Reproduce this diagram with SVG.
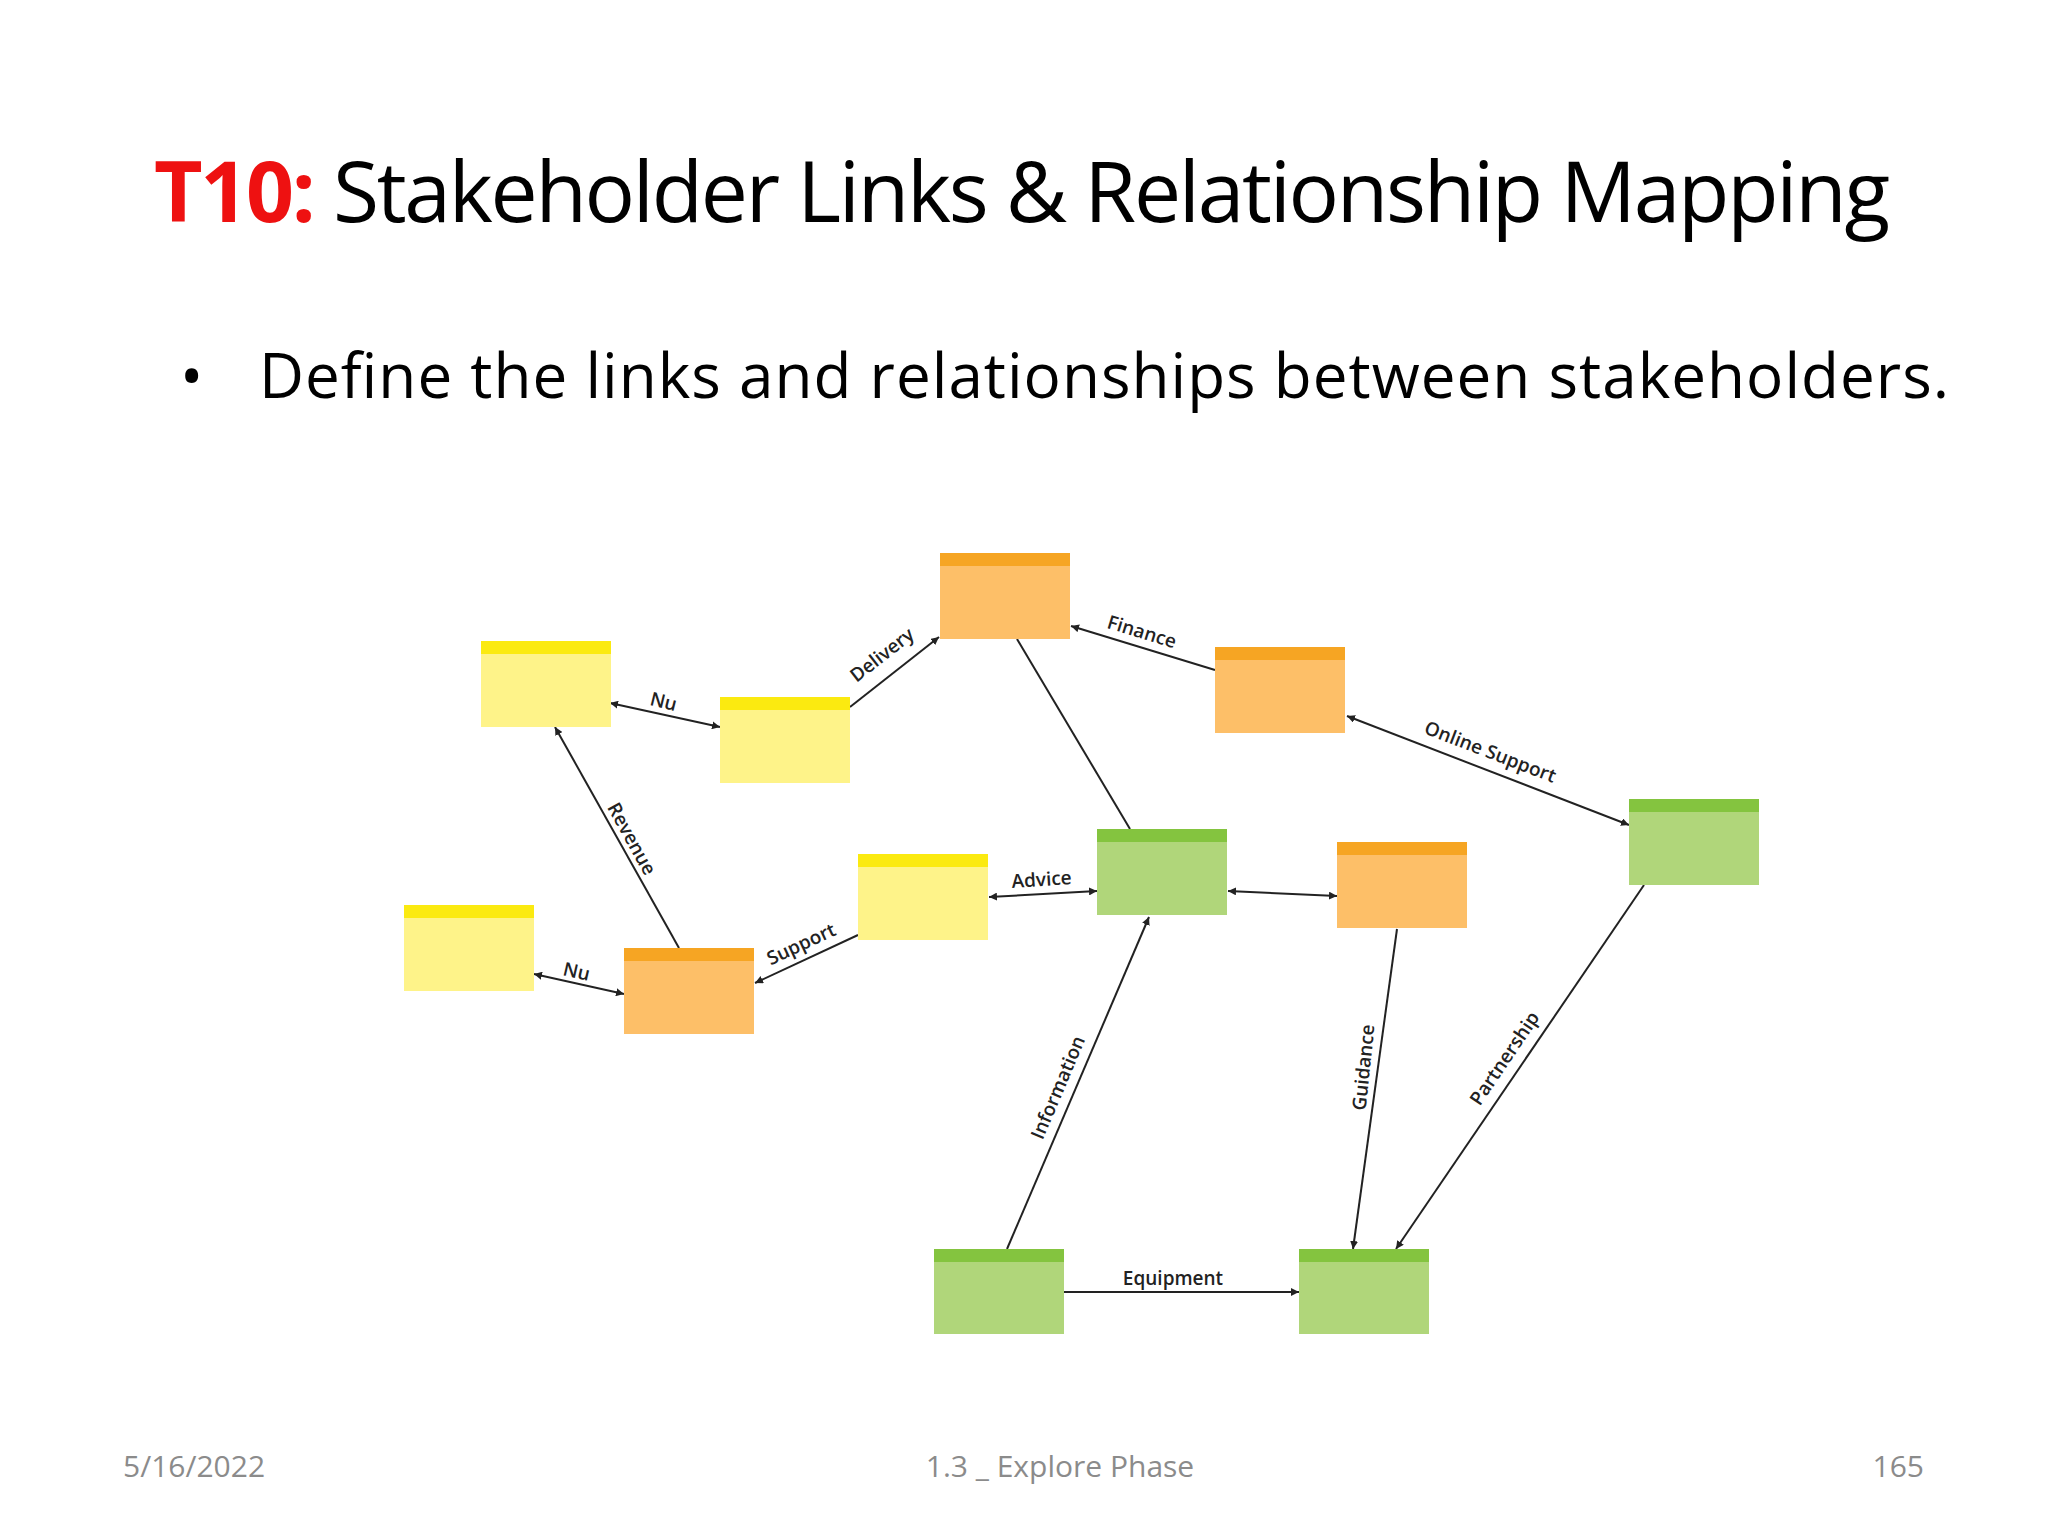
<svg xmlns="http://www.w3.org/2000/svg" width="2048" height="1536" viewBox="0 0 2048 1536">
<style>
.y{fill:#fef389}.yb{fill:#fbea10}.o{fill:#fdbf68}.ob{fill:#f6a523}.g{fill:#b0d67a}.gb{fill:#84c43f}
.e{stroke:#222;stroke-width:2;fill:none}
.l{font-family:"Open Sans","Liberation Sans",sans-serif;font-size:19px;font-weight:600;fill:#222}
.f{font-family:"Open Sans","Liberation Sans",sans-serif;font-size:30px;fill:#8b8b8b}
</style>
<defs>
<marker id="a" viewBox="0 0 10 10" refX="10" refY="5" markerWidth="8" markerHeight="8" orient="auto-start-reverse" markerUnits="userSpaceOnUse"><path d="M0,0L10,5L0,10z" fill="#222"/></marker>
</defs>
<rect width="2048" height="1536" fill="#fff"/>
<text x="154" y="222" font-family="'Open Sans','Liberation Sans',sans-serif" font-size="84" textLength="1736"><tspan fill="#ee1111" font-weight="bold">T10:</tspan><tspan fill="#000"> Stakeholder Links &amp; Relationship Mapping</tspan></text>
<text x="180" y="398" font-family="'Open Sans','Liberation Sans',sans-serif" font-size="62">•</text>
<text x="259" y="398" font-family="'Open Sans','Liberation Sans',sans-serif" font-size="62" textLength="1690">Define the links and relationships between stakeholders.</text>
<g id="connectors">
<line class="e" x1="610" y1="703" x2="720" y2="727" marker-start="url(#a)" marker-end="url(#a)"/>
<line class="e" x1="850" y1="707" x2="939" y2="637" marker-end="url(#a)"/>
<line class="e" x1="1215" y1="670" x2="1071" y2="626" marker-end="url(#a)"/>
<line class="e" x1="1017" y1="639" x2="1130" y2="829"/>
<line class="e" x1="1347" y1="716" x2="1629" y2="825" marker-start="url(#a)" marker-end="url(#a)"/>
<line class="e" x1="679" y1="948" x2="555" y2="727" marker-end="url(#a)"/>
<line class="e" x1="1097" y1="891" x2="989" y2="897" marker-start="url(#a)" marker-end="url(#a)"/>
<line class="e" x1="1228" y1="891" x2="1337" y2="896" marker-start="url(#a)" marker-end="url(#a)"/>
<line class="e" x1="858" y1="935" x2="755" y2="983" marker-end="url(#a)"/>
<line class="e" x1="534" y1="974" x2="624" y2="994" marker-start="url(#a)" marker-end="url(#a)"/>
<line class="e" x1="1007" y1="1249" x2="1149" y2="917" marker-end="url(#a)"/>
<line class="e" x1="1397" y1="929" x2="1353" y2="1249" marker-end="url(#a)"/>
<line class="e" x1="1644" y1="885" x2="1396" y2="1249" marker-end="url(#a)"/>
<line class="e" x1="1064" y1="1292" x2="1299" y2="1292" marker-end="url(#a)"/>
<text class="l" text-anchor="middle" transform="translate(662,708) rotate(14)">Nu</text>
<text class="l" text-anchor="middle" transform="translate(886,660) rotate(-38)">Delivery</text>
<text class="l" text-anchor="middle" transform="translate(1140,638) rotate(17)">Finance</text>
<text class="l" text-anchor="middle" transform="translate(1488,758) rotate(21)">Online Support</text>
<text class="l" text-anchor="middle" transform="translate(626,842) rotate(61)">Revenue</text>
<text class="l" text-anchor="middle" transform="translate(1042,886) rotate(-4)">Advice</text>
<text class="l" text-anchor="middle" transform="translate(804,950) rotate(-25)">Support</text>
<text class="l" text-anchor="middle" transform="translate(575,978) rotate(13)">Nu</text>
<text class="l" text-anchor="middle" transform="translate(1064,1090) rotate(-67)">Information</text>
<text class="l" text-anchor="middle" transform="translate(1370,1068) rotate(-84)">Guidance</text>
<text class="l" text-anchor="middle" transform="translate(1510,1062) rotate(-56)">Partnership</text>
<text class="l" text-anchor="middle" x="1173" y="1285">Equipment</text>
</g>
<g id="n1"><rect class="y" x="481" y="641" width="130" height="86"/><rect class="yb" x="481" y="641" width="130" height="13"/></g>
<g id="n2"><rect class="y" x="720" y="697" width="130" height="86"/><rect class="yb" x="720" y="697" width="130" height="13"/></g>
<g id="n3"><rect class="o" x="940" y="553" width="130" height="86"/><rect class="ob" x="940" y="553" width="130" height="13"/></g>
<g id="n4"><rect class="o" x="1215" y="647" width="130" height="86"/><rect class="ob" x="1215" y="647" width="130" height="13"/></g>
<g id="n5"><rect class="g" x="1629" y="799" width="130" height="86"/><rect class="gb" x="1629" y="799" width="130" height="13"/></g>
<g id="n6"><rect class="y" x="858" y="854" width="130" height="86"/><rect class="yb" x="858" y="854" width="130" height="13"/></g>
<g id="n7"><rect class="g" x="1097" y="829" width="130" height="86"/><rect class="gb" x="1097" y="829" width="130" height="13"/></g>
<g id="n8"><rect class="o" x="1337" y="842" width="130" height="86"/><rect class="ob" x="1337" y="842" width="130" height="13"/></g>
<g id="n9"><rect class="y" x="404" y="905" width="130" height="86"/><rect class="yb" x="404" y="905" width="130" height="13"/></g>
<g id="n10"><rect class="o" x="624" y="948" width="130" height="86"/><rect class="ob" x="624" y="948" width="130" height="13"/></g>
<g id="n11"><rect class="g" x="934" y="1249" width="130" height="85"/><rect class="gb" x="934" y="1249" width="130" height="13"/></g>
<g id="n12"><rect class="g" x="1299" y="1249" width="130" height="85"/><rect class="gb" x="1299" y="1249" width="130" height="13"/></g>
<text class="f" x="123" y="1477">5/16/2022</text>
<text class="f" x="1060" y="1477" text-anchor="middle">1.3 _  Explore Phase</text>
<text class="f" x="1924" y="1477" text-anchor="end">165</text>
</svg>
